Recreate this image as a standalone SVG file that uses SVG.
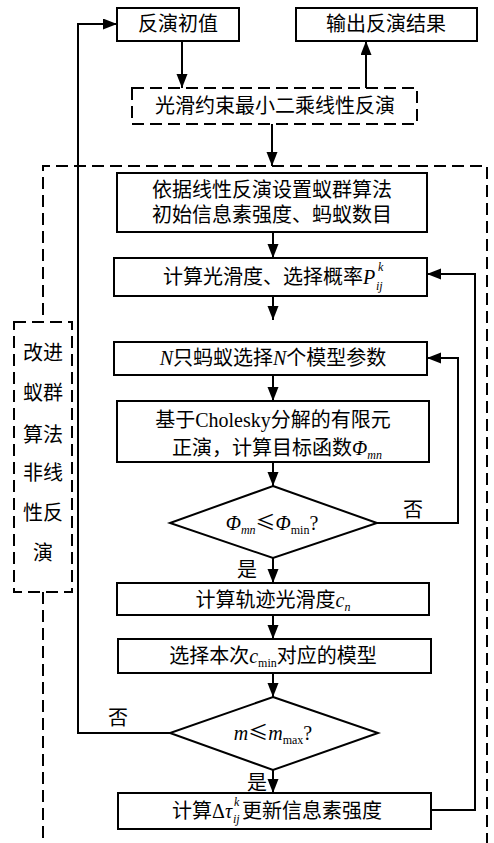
<svg xmlns="http://www.w3.org/2000/svg" width="494" height="843" viewBox="0 0 494 843">
<defs>
<marker id="ah" markerUnits="userSpaceOnUse" markerWidth="14" markerHeight="12" refX="14" refY="5.5" orient="auto">
<path d="M0,0 L14,5.5 L0,11 z" fill="#000"/>
</marker>
<style>
.box{fill:#fff;stroke:#000;stroke-width:2}
.dbox{fill:#fff;stroke:#000;stroke-width:2;stroke-dasharray:12 6}
.dl{fill:none;stroke:#000;stroke-width:2;stroke-dasharray:12 6}
.ln{fill:none;stroke:#000;stroke-width:2}
.ar{fill:none;stroke:#000;stroke-width:2;marker-end:url(#ah)}
text{font-family:"Liberation Serif","Noto Sans CJK SC",serif;font-size:20px;fill:#000}
.m{text-anchor:middle}
.i{font-style:italic}
.s{font-size:12px}
.le{font-family:"Noto Sans CJK SC",sans-serif}
</style>
</defs>
<rect width="494" height="843" fill="#fff"/>
<g id="outer">
<path class="dl" d="M43,315 V166 H487 V843"/>
<path class="dl" d="M43,592 V843"/>
</g>
<g id="connectors">
<path class="ar" d="M170,733 H78 V24 H117"/>
<path class="ar" d="M182,41 V88"/>
<path class="ar" d="M366,88 V41"/>
<path class="ar" d="M272,124 V166"/>
<path class="ar" d="M273,232 V258"/>
<path class="ar" d="M273,296 V320"/>
<path class="ar" d="M273,375 V401"/>
<path class="ar" d="M273,462 V486"/>
<path class="ar" d="M377,523 H458 V358 H427"/>
<path class="ar" d="M273,558 V583"/>
<path class="ar" d="M273,615 V639"/>
<path class="ar" d="M273,673 V697"/>
<path class="ar" d="M273,770 V793"/>
<path class="ar" d="M431,810 H475 V274 H427"/>
<text class="m" x="413" y="517">否</text>
<text class="m" x="247" y="577">是</text>
<text class="m" x="118" y="725">否</text>
<text class="m" x="257" y="790">是</text>
</g>
<g id="n_init">
<rect class="box" x="117" y="8" width="122" height="33"/>
<text class="m" x="178" y="31">反演初值</text>
</g>
<g id="n_output">
<rect class="box" x="296" y="8" width="181" height="33"/>
<text class="m" x="386" y="31">输出反演结果</text>
</g>
<g id="n_linear">
<rect class="dbox" x="132" y="88" width="285" height="36"/>
<text class="m" x="275" y="113">光滑约束最小二乘线性反演</text>
</g>
<g id="n_label">
<rect class="dbox" x="14" y="322" width="58" height="270"/>
<text class="m" x="43" y="360">改进</text>
<text class="m" x="43" y="400">蚁群</text>
<text class="m" x="43" y="442">算法</text>
<text class="m" x="43" y="480">非线</text>
<text class="m" x="43" y="520">性反</text>
<text class="m" x="43" y="560">演</text>
</g>
<g id="n_setup">
<rect class="box" x="117" y="173" width="310" height="59"/>
<text class="m" x="272" y="197">依据线性反演设置蚁群算法</text>
<text class="m" x="272" y="222">初始信息素强度、蚂蚁数目</text>
</g>
<g id="n_prob">
<rect class="box" x="114" y="258" width="313" height="38"/>
<text x="163" y="284">计算光滑度、选择概率<tspan class="i">P</tspan></text>
<text class="i s" x="376" y="290">ij</text>
<text class="i s" x="378" y="271">k</text>
</g>
<g id="n_select">
<rect class="box" x="114" y="342" width="313" height="33"/>
<text class="m" x="273" y="365"><tspan class="i">N</tspan>只蚂蚁选择<tspan class="i">N</tspan>个模型参数</text>
</g>
<g id="n_forward">
<rect class="box" x="117" y="401" width="312" height="61"/>
<text class="m" x="273" y="427">基于Cholesky分解的有限元</text>
<text class="m" x="277" y="455">正演，计算目标函数<tspan class="i">Φ</tspan><tspan class="i s" dy="4">mn</tspan></text>
</g>
<g id="n_dec1">
<polygon class="box" points="273,486 377,523 273,558 170,523"/>
<text class="m" x="272" y="530"><tspan class="i">Φ</tspan><tspan class="i s" dy="4">mn</tspan><tspan class="le" dy="-4">≤</tspan><tspan class="i">Φ</tspan><tspan class="s" dy="4">min</tspan><tspan dy="-4">?</tspan></text>
</g>
<g id="n_smooth">
<rect class="box" x="117" y="583" width="312" height="32"/>
<text class="m" x="273" y="607">计算轨迹光滑度<tspan class="i">c</tspan><tspan class="i s" dy="4">n</tspan></text>
</g>
<g id="n_model">
<rect class="box" x="118" y="639" width="313" height="34"/>
<text class="m" x="273" y="663">选择本次<tspan class="i">c</tspan><tspan class="s" dy="4">min</tspan><tspan dy="-4">对应的模型</tspan></text>
</g>
<g id="n_dec2">
<polygon class="box" points="273,697 378,733 273,770 170,733"/>
<text class="m" x="273" y="740"><tspan class="i">m</tspan><tspan class="le">≤</tspan><tspan class="i">m</tspan><tspan class="s" dy="4">max</tspan><tspan dy="-4">?</tspan></text>
</g>
<g id="n_update">
<rect class="box" x="118" y="793" width="313" height="36"/>
<text x="172" y="818">计算Δ<tspan class="i">τ</tspan></text>
<text class="i s" x="233" y="823">ij</text>
<text class="i s" x="234" y="806">k</text>
<text x="242" y="818">更新信息素强度</text>
</g>
</svg>
